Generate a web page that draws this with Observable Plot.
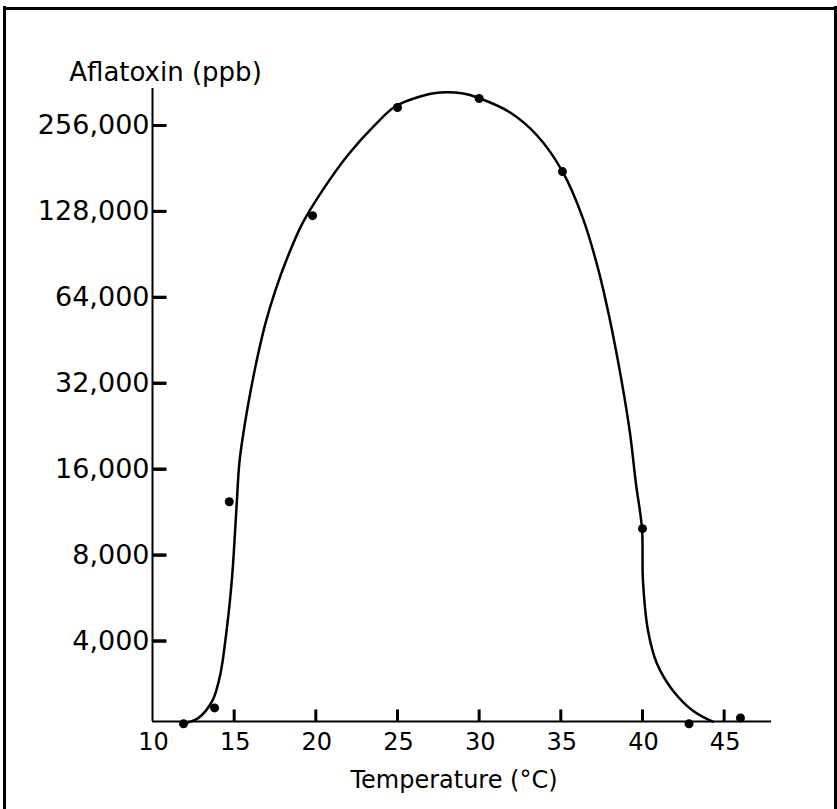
<!DOCTYPE html>
<html><head><meta charset="utf-8">
<script src="https://cdn.jsdelivr.net/npm/d3@7"></script>
<script src="https://cdn.jsdelivr.net/npm/@observablehq/plot@0.6"></script>
<style>
html,body{margin:0;padding:0;background:#fff;}
#wrap{position:relative;width:837px;height:809px;overflow:hidden;background:#fff;}
#chart{position:absolute;left:0;top:0;}
</style></head><body>
<div id="wrap"><div id="chart"></div></div>
<script>
// Observed data points
const pointTemp = [11.9, 13.8, 14.7, 19.8, 25.0, 30.0, 35.1, 40.0, 42.85, 46.0];
const pointPpb  = [2051, 2332, 12300, 123700, 295900, 318200, 176500, 9900, 2051, 2151];

// Hand-drawn fitted curve
const curveTemp = [11.83, 12.81, 13.67, 14.16, 14.46, 14.71, 14.89, 15.14, 15.32, 15.57, 15.99, 16.42, 16.91, 17.52, 18.26, 19.17, 20.40, 21.99, 23.64, 24.86, 26.39, 27.61, 29.02, 30.06, 31.90, 33.55, 35.14, 36.36, 37.28, 37.95, 38.75, 39.24, 39.60, 39.97, 40.03, 40.34, 40.89, 41.87, 43.09, 44.31];
const curvePpb  = [2051, 2151, 2472, 3074, 4012, 5321, 6887, 11650, 16870, 21490, 29680, 39360, 51800, 67570, 88210, 116000, 151400, 202600, 257900, 298300, 323400, 334000, 331300, 318200, 284200, 236100, 175100, 120800, 80710, 55230, 31910, 21320, 14240, 9900, 6512, 4348, 3331, 2680, 2280, 2086];

const xTicks = [10, 15, 20, 25, 30, 35, 40, 45];
const yTicks = [4000, 8000, 16000, 32000, 64000, 128000, 256000];
const yLabel = "Aflatoxin (ppb)";
const xLabel = "Temperature (°C)";
const xDomain = [10, 47.9];
const yDomain = [2090, 345000];

// inward tick lengths in scale units (≈14 px and ≈12 px)
const yTickLen = 0.86;
const xTickFactor = 1.102;

const points = pointTemp.map((t, i) => ({t, v: pointPpb[i]}));
const curve = curveTemp.map((t, i) => ({t, v: curvePpb[i]}));

const chart = Plot.plot({
  width: 837,
  height: 809,
  marginLeft: 152,
  marginRight: 66,
  marginTop: 88,
  marginBottom: 88,
  style: {fontFamily: "DejaVu Sans, sans-serif", background: "white", color: "black"},
  x: {domain: xDomain},
  y: {type: "log", base: 2, domain: yDomain},
  marks: [
    // page frame (open at the bottom, as in the scanned figure)
    Plot.frame({anchor: "left", insetLeft: -148, insetTop: -81, insetBottom: -120, stroke: "black", strokeWidth: 3}),
    Plot.frame({anchor: "right", insetRight: -64, insetTop: -81, insetBottom: -120, stroke: "black", strokeWidth: 3}),
    Plot.frame({anchor: "top", insetLeft: -148, insetRight: -64, insetTop: -80, stroke: "black", strokeWidth: 3}),
    // tick labels
    Plot.axisY({ticks: yTicks, tickSize: 0, tickPadding: 3, tickFormat: d3.format(","), label: null, fontSize: 27, style: {letterSpacing: "3.6px"}}),
    Plot.axisX({ticks: xTicks, tickSize: 0, tickPadding: 11, tickFormat: d => String(d), label: null, fontSize: 24, dx: 1, style: {letterSpacing: "1.5px"}}),
    Plot.line(curve, {x: "t", y: "v", curve: "catmull-rom", stroke: "black", strokeWidth: 2.5}),
    Plot.dot(points, {x: "t", y: "v", r: 4.5, fill: "black"}),
    Plot.text([yLabel], {text: d => d, frameAnchor: "top-left", dx: 13, dy: -26, textAnchor: "middle", fontSize: 26, style: {letterSpacing: "2px"}}),
    Plot.text([xLabel], {text: d => d, frameAnchor: "bottom", dx: -8, dy: 66, textAnchor: "middle", fontSize: 24, style: {letterSpacing: "1.6px"}}),
    // axis lines
    Plot.ruleX([xDomain[0]], {stroke: "black", strokeWidth: 2}),
    Plot.ruleY([yDomain[0]], {stroke: "black", strokeWidth: 2}),
    // inward tick marks, drawn last
    Plot.axisY({ticks: yTicks, tickSize: 14, dx: 14, tickFormat: () => "", label: null, stroke: "#000", strokeWidth: 3}),
    Plot.link(yTicks, {x1: () => xDomain[0], x2: () => xDomain[0] + yTickLen, y1: d => d, y2: d => d, stroke: "#000", strokeWidth: 3}),
    Plot.link(xTicks.slice(1), {x1: d => d, x2: d => d, y1: () => yDomain[0], y2: () => yDomain[0] * xTickFactor, stroke: "#000", strokeWidth: 3})
  ]
});
document.getElementById("chart").appendChild(chart);
</script>
</body></html>
